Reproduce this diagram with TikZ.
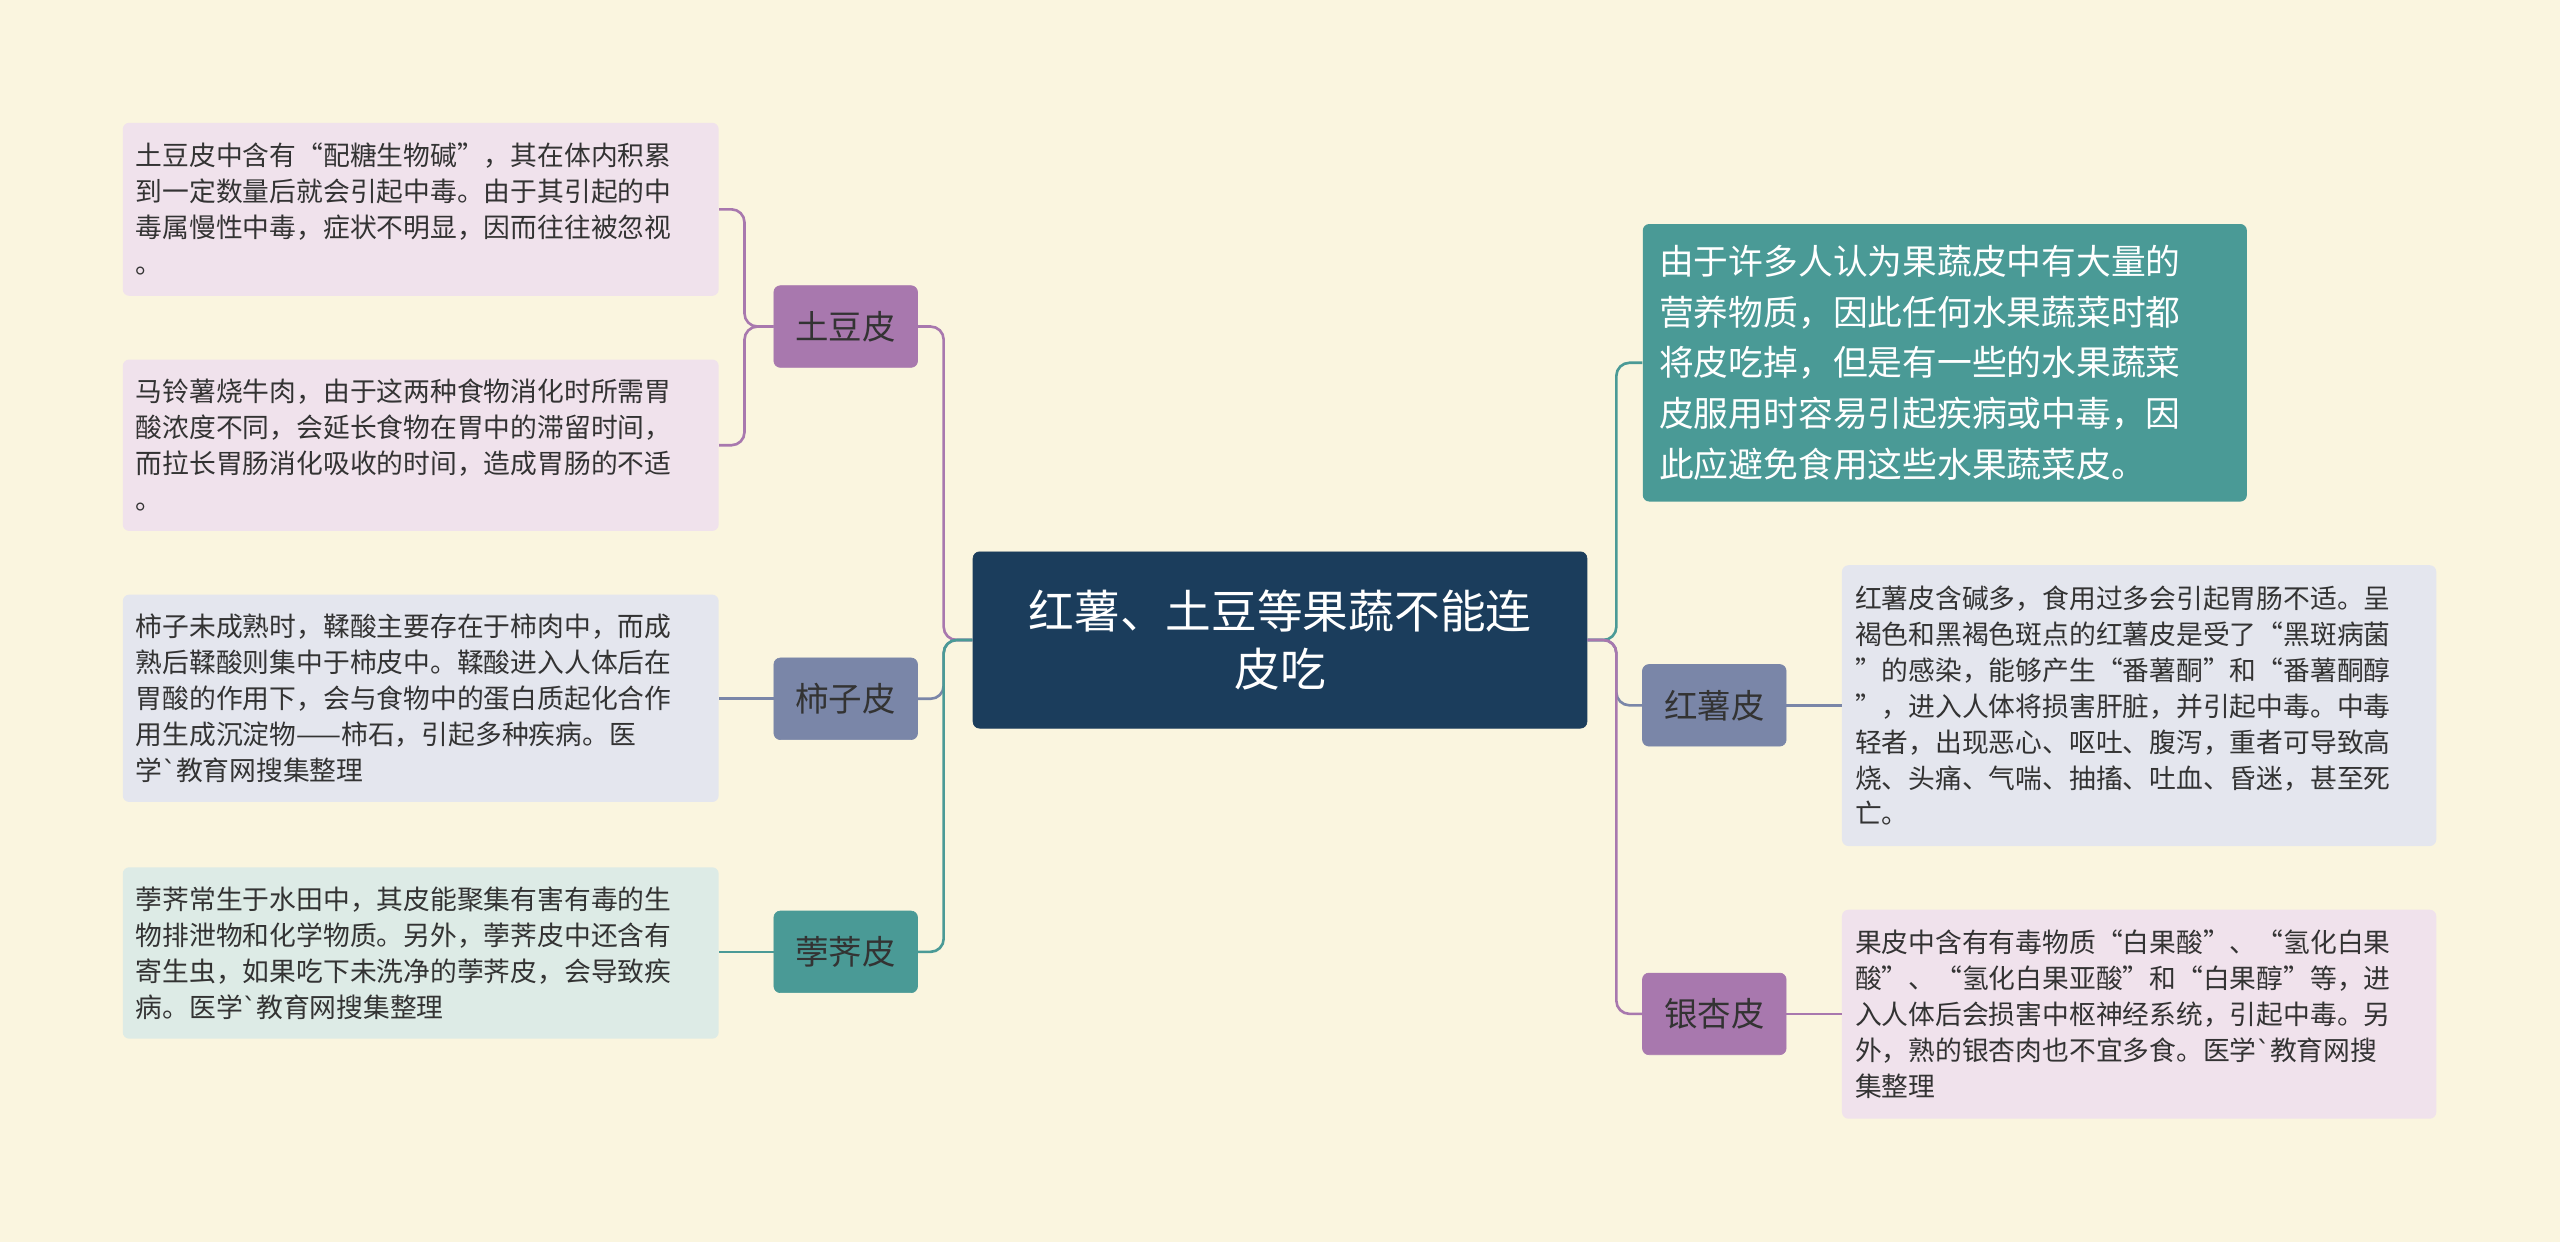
\documentclass[tikz,border=0pt]{standalone}
\usepackage{fontspec}
\setmainfont{Noto Sans CJK SC}
\newfontfamily\djv{DejaVu Sans}
\definecolor{bg}{HTML}{FAF5DF}
\definecolor{navy}{HTML}{1B3D5C}
\definecolor{pur}{HTML}{A878AE}
\definecolor{gb}{HTML}{7A86A8}
\definecolor{teal}{HTML}{4A9A96}
\definecolor{lpur}{HTML}{F0E2EC}
\definecolor{lgb}{HTML}{E4E6EE}
\definecolor{lteal}{HTML}{DDEBE6}
\newcommand{\bq}{{\djv\char96}}
\tikzset{x=1pt,y=-1pt,
 br/.style={draw=#1,fill=#1,rounded corners=4,minimum width=88,minimum height=50,font=\fontsize{20.5}{24}\selectfont,text=black!80},
 leaf/.style={fill=#1,rounded corners=4,anchor=north west,inner sep=8,text width=349,align=left,font=\fontsize{16.4}{22}\selectfont,text=black!80},
 ln/.style={draw=#1,line width=1.6,rounded corners=8}}
\begin{document}
\begin{tikzpicture}
\fill[bg] (0,0) rectangle (1568,761);
\useasboundingbox (0,0) rectangle (1568,761);
\node[fill=navy,draw=navy,rounded corners=4,minimum width=376,minimum height=108,text=white,align=center,font=\fontsize{28}{36}\selectfont] (c) at (784,392) {红薯、土豆等果蔬不能连\\皮吃};
\node[br=pur] (td) at (518,200) {土豆皮};
\node[br=gb] (sz) at (518,428) {柿子皮};
\node[br=teal] (bq) at (518,583) {荸荠皮};
\node[br=gb] (hs) at (1050,432) {红薯皮};
\node[br=pur] (yx) at (1050,621) {银杏皮};
\node[fill=teal,rounded corners=4,anchor=north west,inner sep=10,text width=350,align=left,text=white,font=\fontsize{21.3}{31}\selectfont,minimum height=170] (top) at (1006,137) {由于许多人认为果蔬皮中有大量的\\营养物质，因此任何水果蔬菜时都\\将皮吃掉，但是有一些的水果蔬菜\\皮服用时容易引起疾病或中毒，因\\此应避免食用这些水果蔬菜皮。};
\node[leaf=lpur,minimum height=106] (l1) at (75,75) {土豆皮中含有“配糖生物碱”，其在体内积累\\到一定数量后就会引起中毒。由于其引起的中\\毒属慢性中毒，症状不明显，因而往往被忽视\\。};
\node[leaf=lpur,minimum height=105] (l2) at (75,220) {马铃薯烧牛肉，由于这两种食物消化时所需胃\\酸浓度不同，会延长食物在胃中的滞留时间，\\而拉长胃肠消化吸收的时间，造成胃肠的不适\\。};
\node[leaf=lgb,minimum height=127] (l3) at (75,364) {柿子未成熟时，鞣酸主要存在于柿肉中，而成\\熟后鞣酸则集中于柿皮中。鞣酸进入人体后在\\胃酸的作用下，会与食物中的蛋白质起化合作\\用生成沉淀物——柿石，引起多种疾病。医\\学\bq 教育网搜集整理};
\node[leaf=lteal,minimum height=105] (l4) at (75,531) {荸荠常生于水田中，其皮能聚集有害有毒的生\\物排泄物和化学物质。另外，荸荠皮中还含有\\寄生虫，如果吃下未洗净的荸荠皮，会导致疾\\病。医学\bq 教育网搜集整理};
\node[leaf=lgb,text width=348,minimum height=172] (r1) at (1128,346) {红薯皮含碱多，食用过多会引起胃肠不适。呈\\褐色和黑褐色斑点的红薯皮是受了“黑斑病菌\\”的感染，能够产生“番薯酮”和“番薯酮醇\\”，进入人体将损害肝脏，并引起中毒。中毒\\轻者，出现恶心、呕吐、腹泻，重者可导致高\\烧、头痛、气喘、抽搐、吐血、昏迷，甚至死\\亡。};
\node[leaf=lpur,text width=348,minimum height=128] (r2) at (1128,557) {果皮中含有有毒物质“白果酸”、“氢化白果\\酸”、“氢化白果亚酸”和“白果醇”等，进\\入人体后会损害中枢神经系统，引起中毒。另\\外，熟的银杏肉也不宜多食。医学\bq 教育网搜\\集整理};
\draw[ln=pur] (c.west) -- (578,392) |- (td.east);
\draw[ln=gb] (c.west) -- (578,392) |- (sz.east);
\draw[ln=teal] (c.west) -- (578,392) |- (bq.east);
\draw[ln=teal] (c.east) -- (990,392) |- (top.west);
\draw[ln=gb] (c.east) -- (990,392) |- (hs.west);
\draw[ln=pur] (c.east) -- (990,392) |- (yx.west);
\draw[ln=pur] (td.west) -- (456,200) |- (l1.east);
\draw[ln=pur] (td.west) -- (456,200) |- (l2.east);
\draw[ln=gb] (sz.west) -- (sz.west -| l3.east);
\draw[ln=teal] (bq.west) -- (bq.west -| l4.east);
\draw[ln=gb] (hs.east) -- (hs.east -| r1.west);
\draw[ln=pur] (yx.east) -- (yx.east -| r2.west);
\end{tikzpicture}
\end{document}
